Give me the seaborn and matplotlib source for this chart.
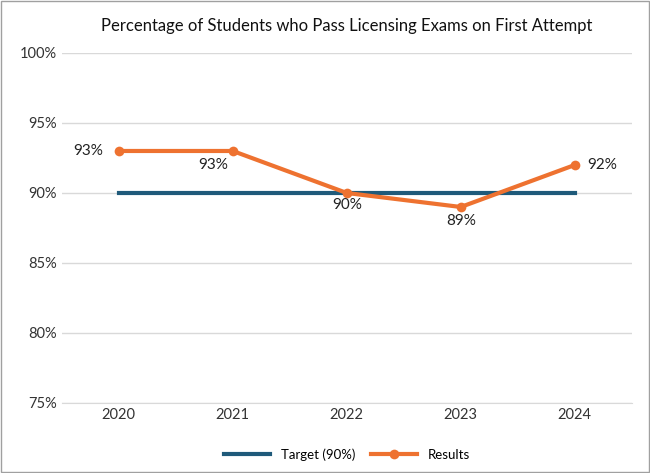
import matplotlib
matplotlib.use("Agg")
import matplotlib.pyplot as plt
import seaborn as sns
import pandas as pd
from matplotlib.patches import Rectangle

years = ["2020", "2021", "2022", "2023", "2024"]
target = [90, 90, 90, 90, 90]
results = [93, 93, 90, 89, 92]
yticks = [75, 80, 85, 90, 95, 100]

plt.rcParams["font.family"] = "Lato"
fig = plt.figure(figsize=(6.5, 4.73), dpi=100)
ax = fig.add_axes([0.095, 0.148, 0.877, 0.74])
df = pd.DataFrame({"x": range(len(years)), "Target (90%)": target, "Results": results})
sns.lineplot(data=df, x="x", y="Target (90%)", ax=ax, color="#1f5a7a", lw=3, label="Target (90%)")
sns.lineplot(data=df, x="x", y="Results", ax=ax, color="#ee7230", lw=3, marker="o",
             markersize=7, markeredgewidth=0, label="Results")
offs = [(-22, 0), (-14, -10), (0, -9), (0, -10), (20, 0)]
for i, (v, (dx, dy)) in enumerate(zip(results, offs)):
    ax.annotate(f"{v}%", (i, v), xytext=(dx, dy), textcoords="offset points",
                ha="center", va="center", fontsize=11, color="#222222")
ax.set_xlim(-0.5, 4.5)
ax.set_ylim(75, 100)
ax.set_xticks(range(len(years)))
ax.set_xticklabels(years)
ax.set_yticks(yticks)
ax.set_yticklabels([f"{t}%" for t in yticks])
ax.tick_params(length=0, labelsize=10.5, colors="#333333")
ax.grid(axis="y", color="#d9d9d9", lw=1)
for s in ["top", "right", "left"]:
    ax.spines[s].set_visible(False)
ax.spines["bottom"].set_color("#d9d9d9")
ax.set_xlabel("")
ax.set_ylabel("")
ax.set_title("Percentage of Students who Pass Licensing Exams on First Attempt",
             fontsize=12, color="#111111", pad=16)
ax.legend(loc="upper center", bbox_to_anchor=(0.5, -0.095), ncol=2, frameon=False,
          fontsize=9.5, handlelength=3.5, columnspacing=1.2)
fig.patches.append(Rectangle((0.002, 0.002), 0.996, 0.996, transform=fig.transFigure,
                             fill=False, edgecolor="#a0a0a0", lw=1))
fig.savefig("out.png", dpi=100)
